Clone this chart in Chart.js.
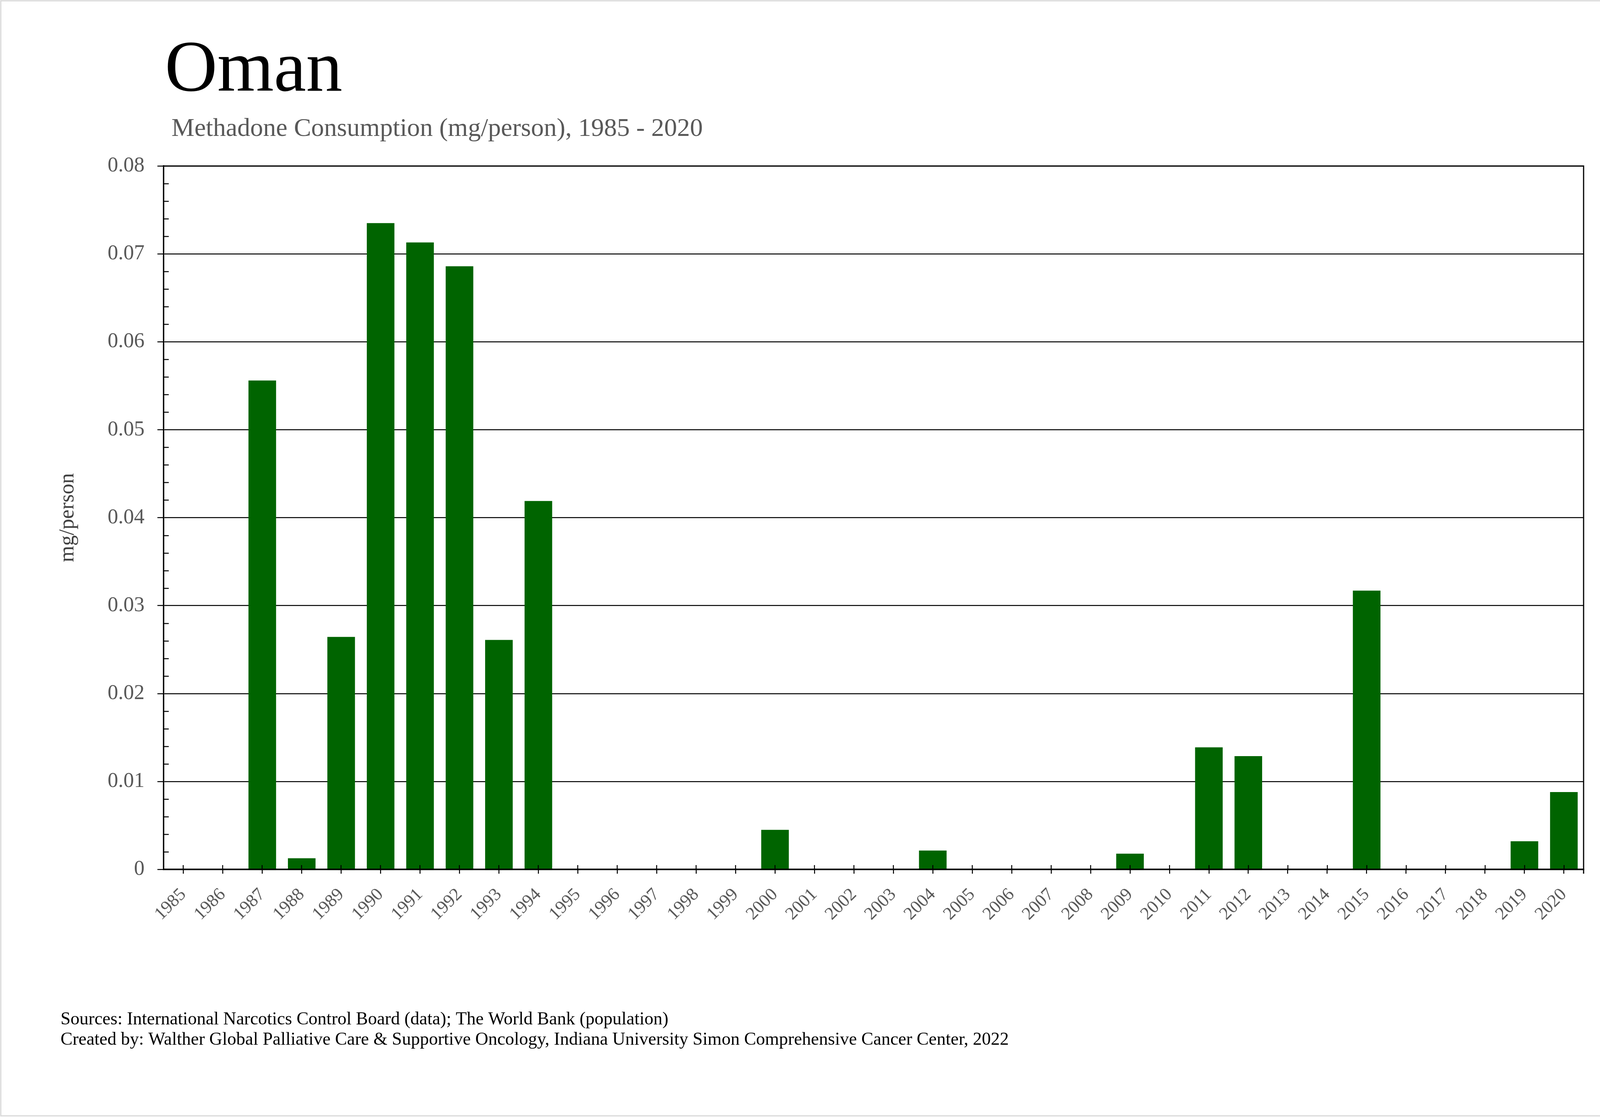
<!DOCTYPE html>
<html>
<head>
<meta charset="utf-8">
<script src="https://cdn.jsdelivr.net/npm/chart.js@4.4.1/dist/chart.umd.min.js"></script>
<style>
html,body{margin:0;padding:0;background:#fff;}
canvas{display:block;}
</style>
</head>
<body>
<canvas id="c" width="4221" height="2860"></canvas>
<script>
// ---- data ----
const years = ['1985','1986','1987','1988','1989','1990','1991','1992','1993','1994',
  '1995','1996','1997','1998','1999','2000','2001','2002','2003','2004',
  '2005','2006','2007','2008','2009','2010','2011','2012','2013','2014',
  '2015','2016','2017','2018','2019','2020'];
const consumption = [0, 0, 0.0556, 0.00127, 0.02644, 0.0735, 0.0713, 0.0686, 0.0261, 0.0419,
  0, 0, 0, 0, 0, 0.0045, 0, 0, 0, 0.00214,
  0, 0, 0, 0, 0.00179, 0, 0.01388, 0.01288, 0, 0,
  0.0317, 0, 0, 0, 0.0032, 0.0088];
const yMin = 0;
const yMax = 0.08;
const yStep = 0.01;
const yMinorStep = 0.002;

const titleText = 'Oman';
const subtitleText = 'Methadone Consumption (mg/person), 1985 - 2020';
const yAxisTitle = 'mg/person';
const footerLines = [
  'Sources: International Narcotics Control Board (data); The World Bank (population)',
  'Created by: Walther Global Palliative Care & Supportive Oncology, Indiana University Simon Comprehensive Cancer Center, 2022'
];

const SERIF = '"Liberation Serif", "Times New Roman", serif';

const deco = {
  id: 'deco',
  beforeDraw(chart) {
    const ctx = chart.ctx;
    ctx.save();
    ctx.fillStyle = '#ffffff';
    ctx.fillRect(0, 0, chart.width, chart.height);
    ctx.restore();
  },
  afterDatasetsDraw(chart) {
    const ctx = chart.ctx;
    const a = chart.chartArea;
    const xs = chart.scales.x, ys = chart.scales.y;
    ctx.save();
    ctx.strokeStyle = '#000';
    ctx.lineWidth = 2.5;
    // minor ticks (inside)
    ctx.beginPath();
    const nMinor = Math.round((yMax - yMin) / yMinorStep);
    const per = Math.round(yStep / yMinorStep);
    for (let i = 1; i < nMinor; i++) {
      if (i % per === 0) continue;
      const py = Math.round(ys.getPixelForValue(yMin + i * yMinorStep)) + 0.5;
      ctx.moveTo(a.left, py);
      ctx.lineTo(a.left + 13, py);
    }
    // upward part of x ticks
    for (let i = 0; i < years.length; i++) {
      const px = Math.round(xs.getPixelForValue(i));
      ctx.moveTo(px, a.bottom);
      ctx.lineTo(px, a.bottom - 11);
    }
    ctx.stroke();
    // top and right border
    ctx.beginPath();
    ctx.lineWidth = 3;
    ctx.moveTo(a.left, a.top);
    ctx.lineTo(a.right, a.top);
    ctx.lineTo(a.right, a.bottom + 11);
    ctx.stroke();
    ctx.restore();
  },
  afterDraw(chart) {
    const ctx = chart.ctx;
    ctx.save();
    ctx.textBaseline = 'alphabetic';
    ctx.textAlign = 'left';
    ctx.fillStyle = '#000';
    ctx.font = '186px ' + SERIF;
    ctx.fillText(titleText, 422, 232);
    ctx.fillStyle = '#595959';
    ctx.font = '66px ' + SERIF;
    ctx.fillText(subtitleText, 439, 348);
    ctx.fillStyle = '#000';
    ctx.font = '46px ' + SERIF;
    ctx.fillText(footerLines[0], 155, 2623);
    ctx.fillText(footerLines[1], 155, 2675);
    // outer frame
    ctx.strokeStyle = '#d9d9d9';
    ctx.lineWidth = 3;
    ctx.strokeRect(2, 2, 4211, 2855);
    ctx.restore();
  }
};

new Chart(document.getElementById('c'), {
  type: 'bar',
  data: {
    labels: years,
    datasets: [{
      data: consumption,
      backgroundColor: '#006400',
      borderWidth: 0,
      categoryPercentage: 1.0,
      barPercentage: 0.7
    }]
  },
  options: {
    responsive: false,
    animation: false,
    devicePixelRatio: 1,
    layout: { padding: { top: 425, right: 167, left: 0, bottom: 0 } },
    plugins: {
      legend: { display: false },
      tooltip: { enabled: false },
      title: { display: false }
    },
    scales: {
      x: {
        type: 'category',
        offset: true,
        grid: { display: true, offset: false, drawOnChartArea: false, drawTicks: true, tickLength: 11, color: '#000', lineWidth: 2.5 },
        border: { display: true, color: '#000', width: 4, z: 1 },
        ticks: { autoSkip: false, maxRotation: 45, minRotation: 45, color: '#595959', padding: 27,
          font: { family: SERIF, size: 46 } },
        afterFit(s) { s.height = 634; }
      },
      y: {
        min: yMin,
        max: yMax,
        grid: { color: '#000', lineWidth: 2.5, tickLength: 16, drawTicks: true },
        border: { display: true, color: '#000', width: 3.5, z: 1 },
        ticks: { stepSize: yStep, color: '#595959', padding: 33,
          font: { family: SERIF, size: 54 },
          callback: (v) => (v === 0 ? '0' : Number(v).toFixed(2)) },
        title: { display: true, text: yAxisTitle, color: '#404040', font: { family: SERIF, size: 54 }, padding: { top: 141, bottom: 0 } },
        afterFit(s) { s.width = 419; }
      }
    }
  },
  plugins: [deco]
});
</script>
</body>
</html>
